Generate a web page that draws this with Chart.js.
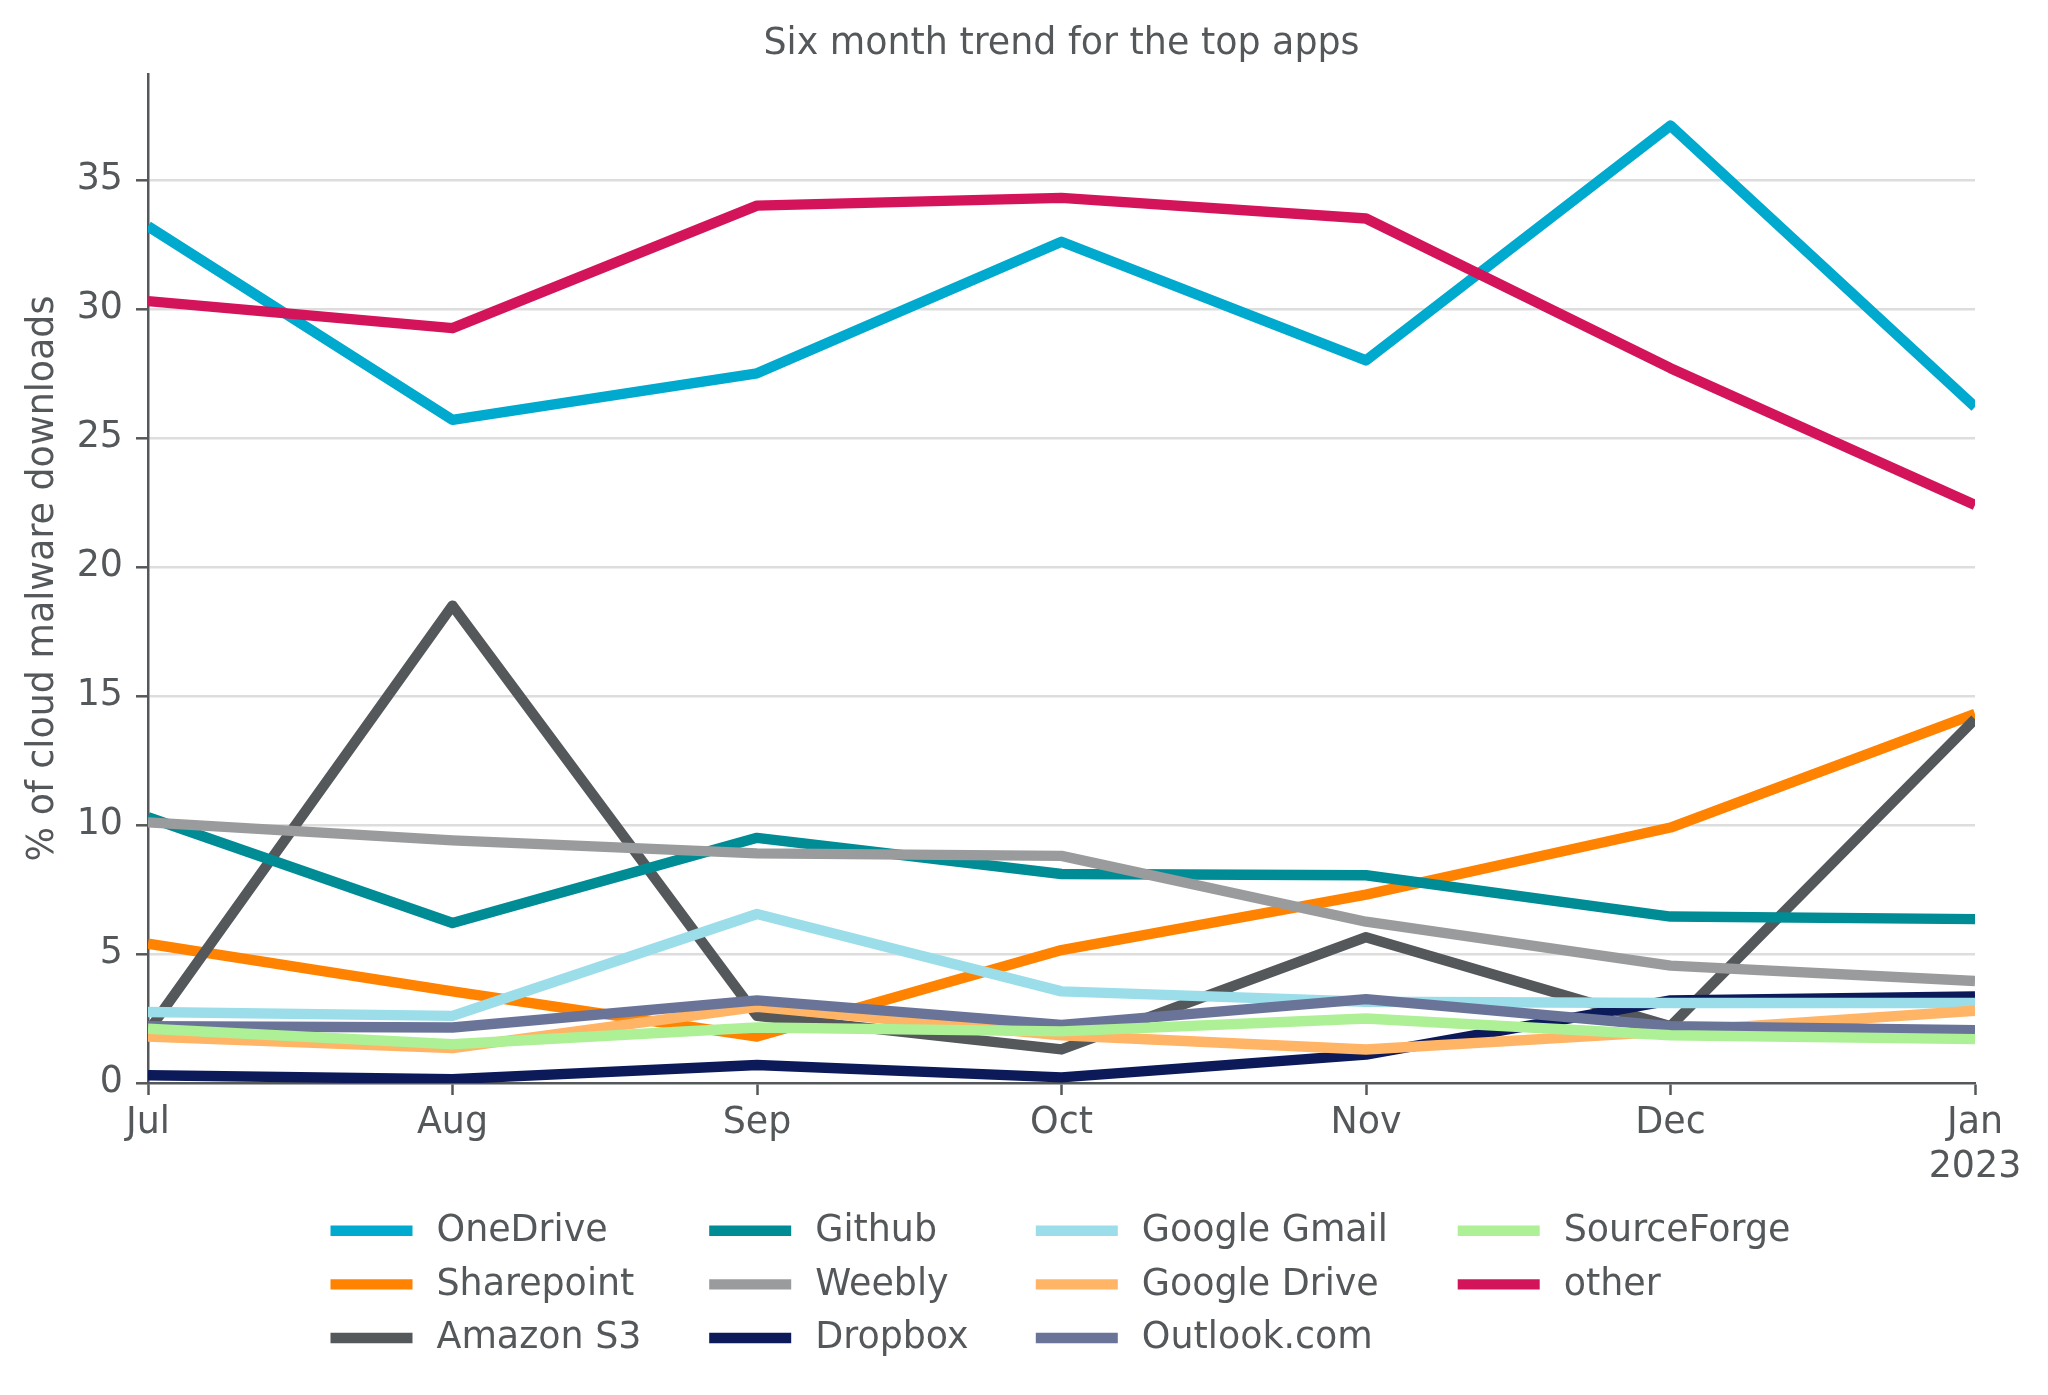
<!DOCTYPE html>
<html>
<head>
<meta charset="utf-8">
<script src="https://cdn.jsdelivr.net/npm/chart.js@4.4.1/dist/chart.umd.min.js"></script>
<style>
html,body{margin:0;padding:0;background:#ffffff;}
#wrap{width:2048px;height:1395px;}
</style>
</head>
<body>
<div id="wrap"><canvas id="c" width="2048" height="1395"></canvas></div>
<script>
// ---- data ----
const months = ['Jul', 'Aug', 'Sep', 'Oct', 'Nov', 'Dec', ['Jan', '2023']];
const seriesNames = ['OneDrive', 'Sharepoint', 'Amazon S3', 'Github', 'Weebly', 'Dropbox',
                     'Google Gmail', 'Google Drive', 'Outlook.com', 'SourceForge', 'other'];
const oneDrive    = [33.2, 25.7, 27.5, 32.6, 28.0, 37.1, 26.2];
const sharepoint  = [5.4, 3.55, 1.8, 5.15, 7.3, 9.9, 14.3];
const amazonS3    = [2.0, 18.5, 2.6, 1.3, 5.65, 2.2, 14.1];
const github      = [10.3, 6.2, 9.5, 8.1, 8.05, 6.45, 6.35];
const weebly      = [10.1, 9.4, 8.9, 8.8, 6.25, 4.55, 3.95];
const dropbox     = [0.3, 0.15, 0.7, 0.22, 1.1, 3.2, 3.35];
const googleGmail = [2.75, 2.6, 6.55, 3.55, 3.15, 3.1, 3.1];
const googleDrive = [1.8, 1.35, 2.95, 1.85, 1.3, 2.0, 2.8];
const outlook     = [2.2, 2.15, 3.2, 2.25, 3.25, 2.2, 2.05];
const sourceForge = [2.1, 1.5, 2.15, 2.0, 2.5, 1.85, 1.7];
const other       = [30.3, 29.25, 34.0, 34.3, 33.5, 27.7, 22.4];
const yTicks = [0, 5, 10, 15, 20, 25, 30, 35];
const yMax = 39.1;
const titleText = 'Six month trend for the top apps';
const yTitleText = '% of cloud malware downloads';

const seriesData = [oneDrive, sharepoint, amazonS3, github, weebly, dropbox,
                    googleGmail, googleDrive, outlook, sourceForge, other];

// ---- styles ----
const colors = ['#00a9ce', '#ff8200', '#54585a', '#008c95', '#9a9b9c', '#0c1a5a',
                '#9bdeea', '#ffb466', '#6a7499', '#adf096', '#d4145a'];
const FONT = 'DejaVu Sans';
const FS = 36.4;
const TXT = '#54585a';
const LW = 10.4;

const datasets = seriesData.map((d, i) => ({
  label: seriesNames[i],
  data: d,
  borderColor: colors[i],
  backgroundColor: colors[i],
  borderWidth: LW,
  pointRadius: 0,
  pointHoverRadius: 0,
  fill: false,
  tension: 0,
  clip: 0,
  order: seriesData.length - i,
  borderJoinStyle: 'round',
  borderCapStyle: 'butt'
}));

const legendCols = [330.5, 709.2, 1035.8, 1457.7];
const legendRows = [1230.8, 1284.4, 1338.0];
const handleLen = 82;
const handleGap = 24;

const customText = {
  id: 'customText',
  afterDraw(chart) {
    const ctx = chart.ctx;
    const ca = chart.chartArea;
    ctx.save();
    ctx.fillStyle = TXT;
    ctx.font = FS + 'px "' + FONT + '"';
    ctx.textAlign = 'center';
    ctx.textBaseline = 'middle';
    ctx.fillText(titleText, (ca.left + ca.right) / 2, 44.5);
    // legend (column-major, 3 rows)
    ctx.textAlign = 'left';
    seriesNames.forEach((name, i) => {
      const col = Math.floor(i / 3), row = i % 3;
      const x = legendCols[col], y = legendRows[row];
      ctx.strokeStyle = colors[i];
      ctx.lineWidth = LW;
      ctx.lineCap = 'butt';
      ctx.beginPath();
      ctx.moveTo(x, y);
      ctx.lineTo(x + handleLen, y);
      ctx.stroke();
      ctx.fillStyle = TXT;
      ctx.fillText(name, x + handleLen + handleGap, y + 1);
    });
    ctx.restore();
  }
};

new Chart(document.getElementById('c'), {
  type: 'line',
  data: { labels: months, datasets: datasets },
  plugins: [customText],
  options: {
    responsive: false,
    animation: false,
    devicePixelRatio: 1,
    layout: { padding: { left: 0, top: 74, right: 73, bottom: 0 } },
    plugins: {
      legend: { display: false },
      title: { display: false },
      tooltip: { enabled: false }
    },
    scales: {
      x: {
        type: 'category',
        offset: false,
        grid: { display: true, drawOnChartArea: false, drawTicks: true, tickLength: 12,
                tickColor: TXT, tickWidth: 2.5 },
        border: { display: true, color: TXT, width: 2.5 },
        ticks: { color: TXT, font: { family: FONT, size: FS, lineHeight: 1.2 },
                 padding: 7, maxRotation: 0, autoSkip: false },
        afterFit: s => { s.height = 312; }
      },
      y: {
        min: 0,
        max: yMax,
        afterBuildTicks: s => { s.ticks = yTicks.map(v => ({ value: v })); },
        grid: { color: c => (c.tick && c.tick.value === 0) ? 'rgba(0,0,0,0)' : '#dddddd',
                lineWidth: 2.6, tickLength: 12, tickColor: TXT, tickWidth: 2.5 },
        border: { display: true, color: TXT, width: 2.5 },
        ticks: { color: TXT, font: { family: FONT, size: FS }, padding: 13 },
        title: { display: true, text: yTitleText, color: TXT,
                 font: { family: FONT, size: FS }, padding: { top: 21.5, bottom: 0 } },
        afterFit: s => { s.width = 148; }
      }
    }
  }
});
</script>
</body>
</html>
